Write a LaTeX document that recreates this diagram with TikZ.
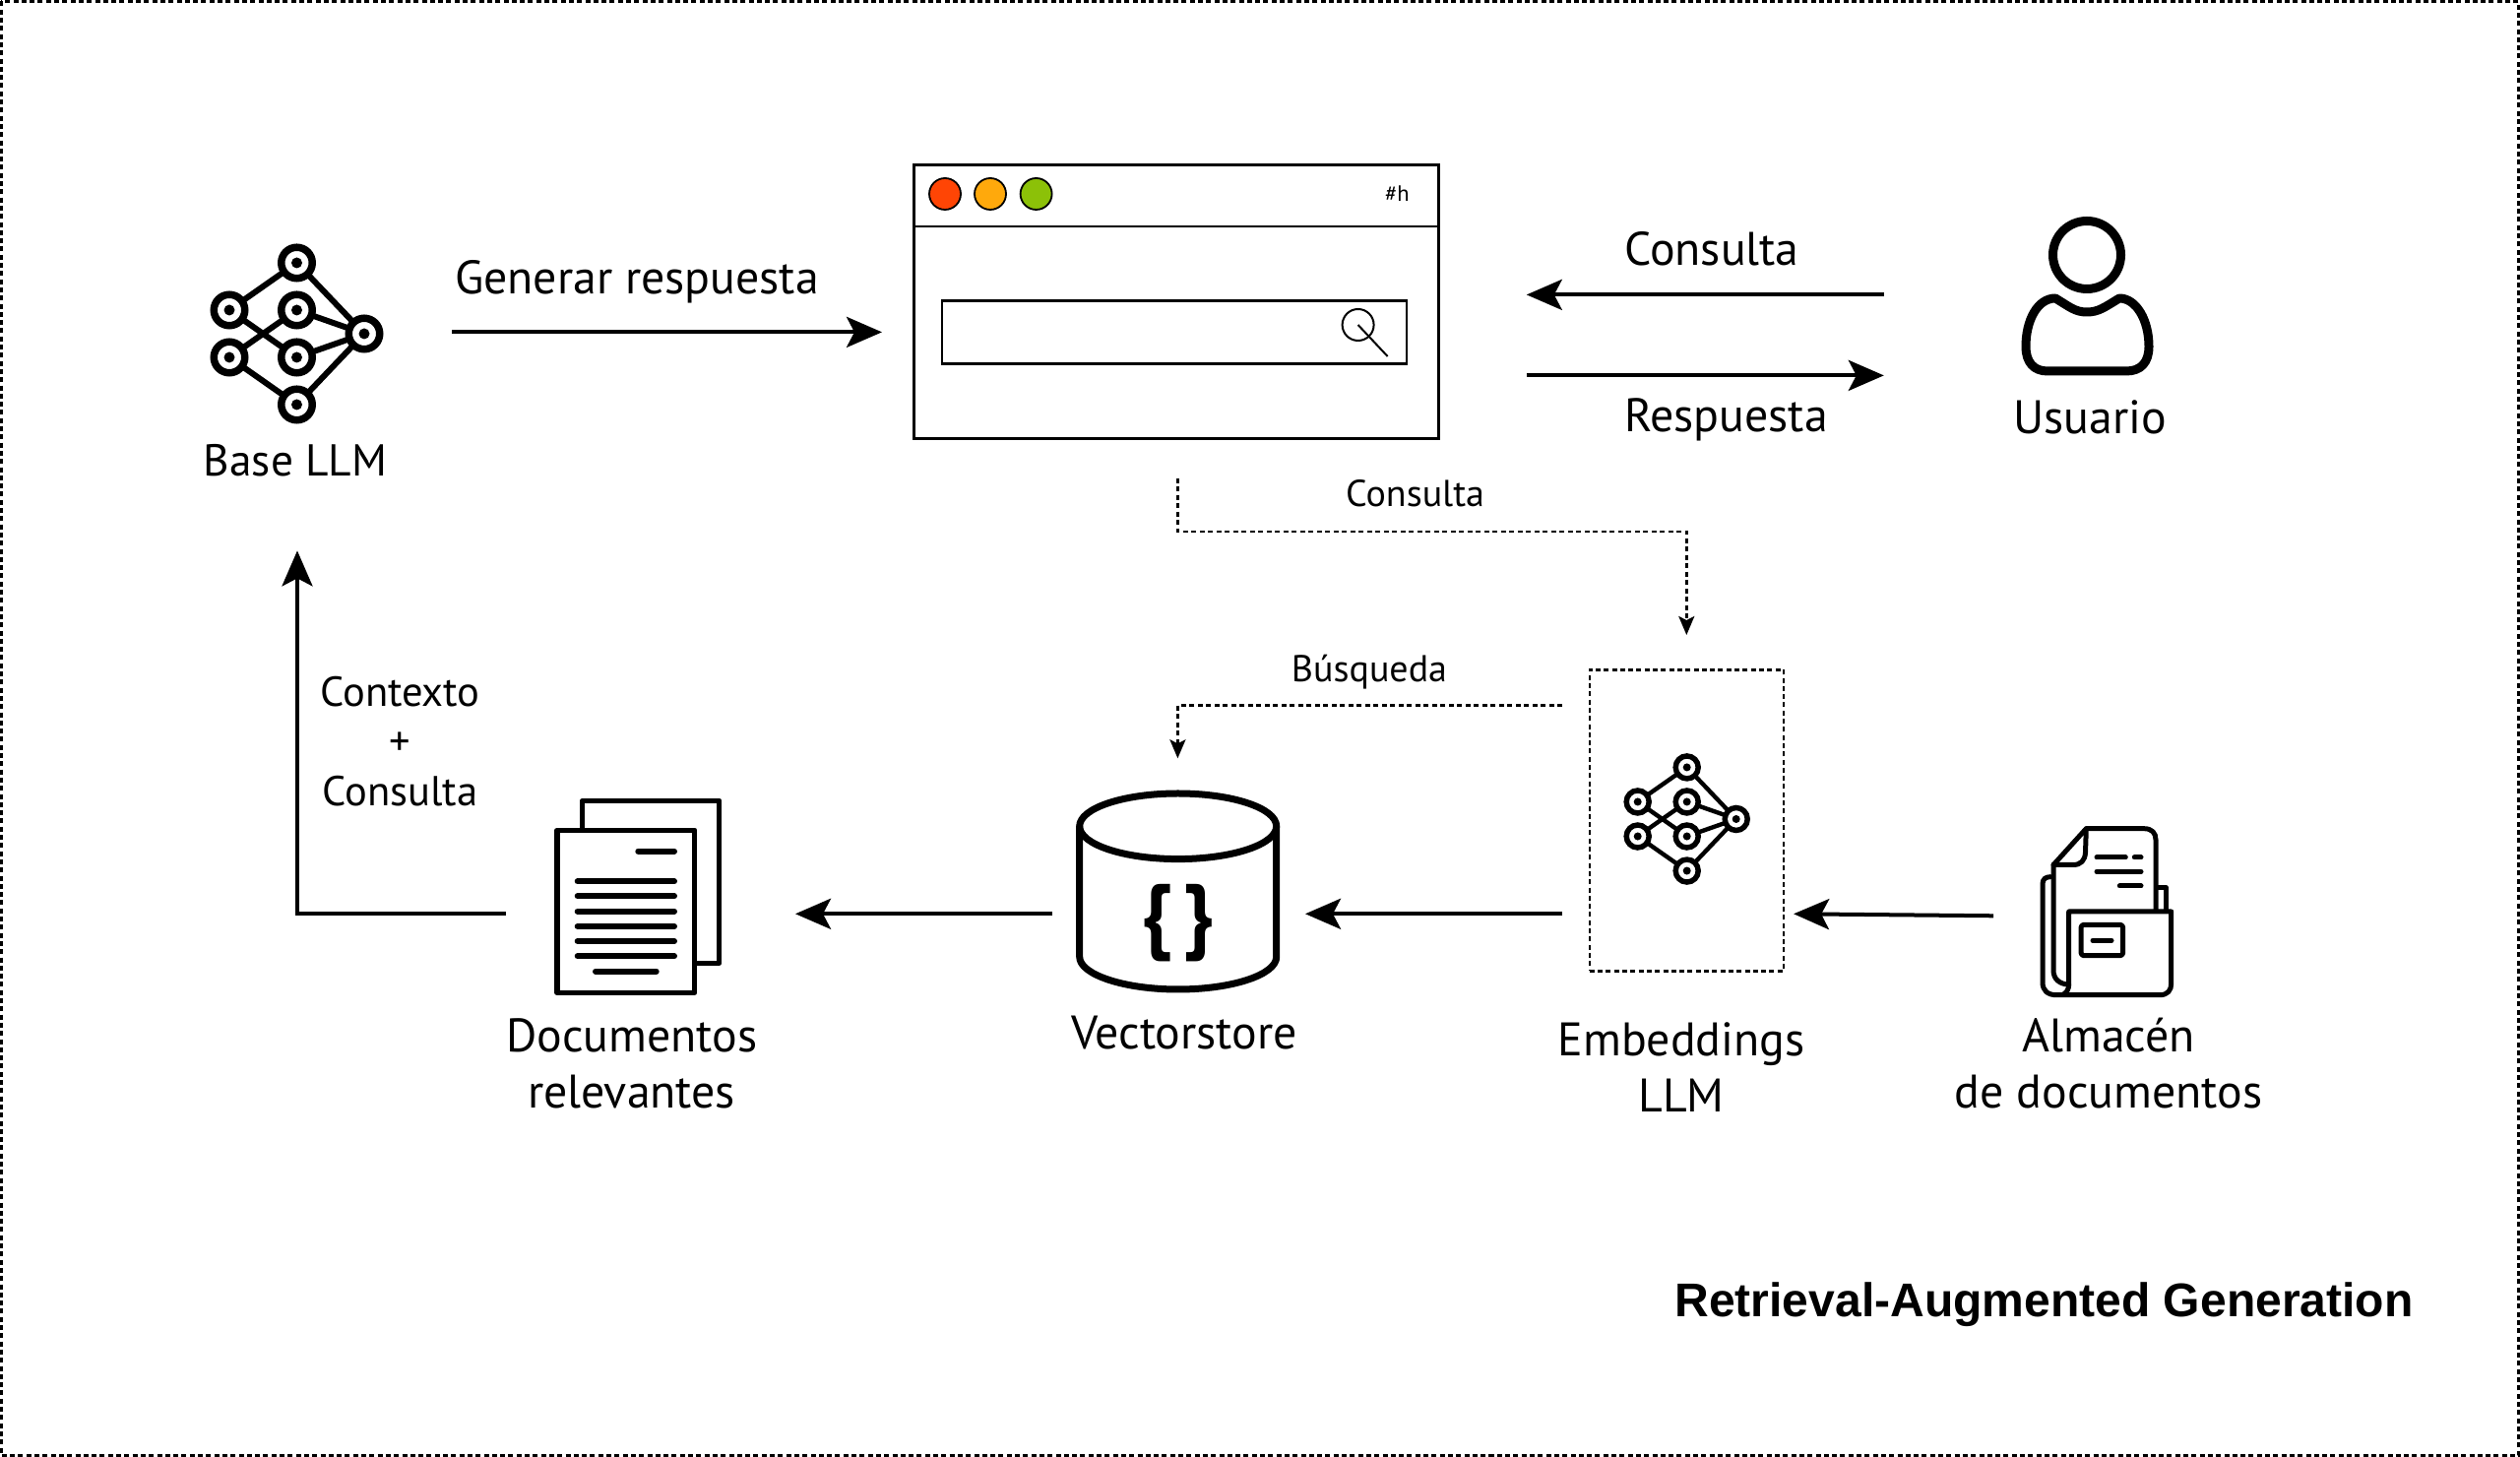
\documentclass[tikz,border=0pt]{standalone}
\usepackage{fontspec}
\setmainfont{PT Sans}
\newfontfamily\titlefont{Liberation Sans}
\usetikzlibrary{arrows.meta}
\newcommand{\px}{0.01cm}
\definecolor{winred}{RGB}{255,69,5}
\definecolor{winamber}{RGB}{255,169,12}
\definecolor{wingreen}{RGB}{140,193,8}
\tikzset{
    flow/.style={line width=4*\px, -{Stealth[length=36*\px, width=31*\px, inset=8*\px]}},
    hint/.style={line width=2.5*\px, dash pattern=on 5*\px off 3.5*\px, -{Stealth[length=19*\px, width=16*\px, inset=4*\px]}},
    frame/.style={line width=2.6*\px, dash pattern=on 5*\px off 3.3*\px},
    winline/.style={draw, line width=2.8*\px},
    light/.style={circle, draw, line width=1.8*\px, minimum width=32*\px, minimum height=32*\px, inner sep=0},
    icon/.style={line width=#1*\px, line cap=round, line join=round},
    big/.style={font=\fontsize{13.6}{16.2}\selectfont, align=center},
    mid/.style={font=\fontsize{12.1}{14.4}\selectfont, align=center},
    small/.style={font=\fontsize{10.8}{12}\selectfont},
    netring/.style={circle, draw, line width=#1*7.5*\px, minimum size=#1*31.5*\px, inner sep=0, outer sep=0},
    netdot/.style={circle, fill, minimum size=#1*11*\px, inner sep=0},
    llmnet/.pic={
        \foreach \n/\a/\b in {top/0/-72, lu/-68.5/-24, ll/-68.5/24, mu/0/-24, ml/0/24, bot/0/72, out/68.5/0}{
            \node[netring=#1] (\n) at (#1*\a,#1*\b) {};
            \node[netdot=#1] (\n-dot) at (\n) {};
        }
        \foreach \p/\q in {top/lu, top/out, lu/ml, ll/mu, ll/bot, mu/out, ml/out, bot/out}
            \draw[line width=#1*6*\px] (\p)--(\q);
    }
}
\begin{document}
\begin{tikzpicture}[x=\px, y=-\px]
    \useasboundingbox (0,0) rectangle (2560,1480);
    \draw[frame] (1.5,1.5) rectangle (2558.5,1478.5);
    % top row
    \pic (base) at (301.5,339) {llmnet=1};
    \node[font=\fontsize{12.9}{15}\selectfont] (baselabel) at (300,468) {Base LLM};
    \node[winline, minimum width=533*\px, minimum height=278*\px, inner sep=0, anchor=north west] (browser) at (927,166) {};
    \draw[line width=2.8*\px] (browser.west |- 0,230)coordinate(barl)--(browser.east |- barl)coordinate(barr);
    \node[light, fill=winred] (red) at (960,197) {};
    \node[light, fill=winamber] (amber) at (1006,197) {};
    \node[light, fill=wingreen] (green) at (1052.6,197) {};
    \node[font=\fontsize{6.4}{8}\selectfont] (hash) at (1419.5,197) {\#h};
    \node[winline, minimum width=472*\px, minimum height=64*\px, inner sep=0, anchor=north west] (search) at (955.5,304.3) {};
    \node[circle, draw, line width=2*\px, minimum size=32*\px, inner sep=0] (lens) at (1379.6,330) {};
    \draw[line width=2*\px] (lens.center)--++(30,32)coordinate(lensend);
    \draw[icon=9] (2120,259) circle[radius=34.5];
    \draw[icon=9] (2088,303) .. controls (2103,312) and (2108,317) .. (2120,317) .. controls (2132,317) and (2138,312) .. (2153,303) .. controls (2170,303) and (2183,325) .. (2183,352) .. controls (2183,368) and (2175,377) .. (2160,377) -- (2080,377) .. controls (2066,377) and (2058,368) .. (2058,352) .. controls (2058,325) and (2070,303) .. (2088,303) -- cycle;
    \node[big] (userlabel) at (2123,424) {Usuario};
    % bottom row
    \draw[icon=5.5] (591.7,843) -- (591.7,813.3) -- (730.7,813.3) -- (730.7,978.3) -- (706,978.3);
    \draw[icon=5.5] (566,843.3) rectangle (705.7,1008.3);
    \foreach \y in {895.3,910.3,925.7,941,956,971.3}
        \draw[icon=6] (586.7,\y) -- (685,\y);
    \draw[icon=6] (648.3,864.7) -- (685,864.7);
    \draw[icon=6] (605,986.7) -- (666.7,986.7);
    \node[big] (docslabel) at (641.6,1080) {Documentos\\relevantes};
    \draw[icon=7] (1196.7,839.3) circle[x radius=100, y radius=33.3];
    \draw[icon=7] (1096.7,839.3) -- (1096.7,972) .. controls (1096.7,990) and (1142,1005) .. (1196.7,1005) .. controls (1252,1005) and (1296.7,990) .. (1296.7,972) -- (1296.7,839.3);
    \node[font=\fontsize{24}{28}\selectfont\bfseries] (braces) at (1196.7,938) {\{\kern3.5pt\}};
    \node[big] (vectorlabel) at (1203,1049) {Vectorstore};
    \node[draw, frame, minimum width=197*\px, minimum height=306*\px, inner sep=0, anchor=north west] (embbox) at (1613.5,679) {};
    \pic (emb) at (1713.7,832) {llmnet=0.73};
    \node[big] (emblabel) at (1708,1084) {Embeddings\\LLM};
    \draw[icon=5] (2086,878.5) -- (2119.3,841.7) -- (2178,841.7) .. controls (2186,841.7) and (2190,846) .. (2190,853) -- (2190,925);
    \draw[icon=5] (2119.3,841.7) -- (2118.5,866) .. controls (2118,874) and (2114,878.5) .. (2106,878.5) -- (2086,878.5) -- (2086,986) .. controls (2086,994) and (2092,1000) .. (2101.7,1000);
    \draw[icon=5] (2083,890.7) .. controls (2078,890.7) and (2075,893) .. (2075,898) -- (2075,998) .. controls (2075,1006) and (2080,1010.7) .. (2089,1010.7) -- (2194,1010.7) .. controls (2202,1010.7) and (2205.7,1006) .. (2205.7,999) -- (2205.7,926) -- (2101.7,926) -- (2101.7,1000) .. controls (2101.7,1005) and (2099,1009) .. (2095,1010.7);
    \draw[icon=5] (2191.7,902) -- (2200.7,902) -- (2200.7,925);
    \draw[icon=5, rounded corners=3*\px] (2114,939.3) rectangle (2156.7,970.7);
    \draw[icon=5] (2126,955.3) -- (2145,955.3);
    \draw[icon=5] (2130,871) -- (2159.3,871) (2168.3,871) -- (2175,871) (2130,885.3) -- (2175,885.3) (2153.3,900) -- (2175,900);
    \node[big] (storelabel) at (2142,1080) {Almacén\\de documentos};
    % arrows
    \draw
    (browser.west)++(-468,31)coordinate(g1)
    (browser.west)++(-31,31)coordinate(g2)
    (browser.east)++(88,-7)coordinate(c2)
    (browser.east)++(451,-7)coordinate(c1)
    (browser.east)++(88,75)coordinate(r1)
    (browser.east)++(451,75)coordinate(r2)
    (browser.south)++(1.5,39)coordinate(d1)
    (d1)++(0,54)coordinate(d2)
    (embbox.north)++(0,-34)coordinate(d4)
    (d2 -| d4)coordinate(d3)
    (embbox.west)++(-26.5,-117)coordinate(s1)
    (d1 |- s1)coordinate(s2)
    (s2)++(0,54)coordinate(s3)
    (embbox.west)++(-26.5,95)coordinate(e1)
    (embbox.west)++(-287.5,95)coordinate(e2)
    (e2)++(-257,0)coordinate(v1)
    (v1)++(-261,0)coordinate(v2)
    (v2)++(-294,0)coordinate(x1)
    (x1)++(-212,0)coordinate(x2)
    (x2 |- g1)++(0,222)coordinate(x3)
    (embbox.east)++(212,97)coordinate(a1)
    (embbox.east)++(9,95)coordinate(a2)
    ;
    \draw[flow](g1)--(g2);
    \draw[flow](c1)--(c2);
    \draw[flow](r1)--(r2);
    \draw[hint](d1)--(d2)--(d3)--(d4);
    \draw[hint](s1)--(s2)--(s3);
    \draw[flow](e1)--(e2);
    \draw[flow](v1)--(v2);
    \draw[flow](x1)--(x2)--(x3);
    \draw[flow](a1)--(a2);
    % labels
    \node[big] (genlabel) at (647,286) {Generar respuesta};
    \node[big] (asklabel) at (1739,253) {Consulta};
    \node[big] (replylabel) at (1753.5,426) {Respuesta};
    \node[small] (querylabel) at (1437.6,501) {Consulta};
    \node[small] (searchlabel) at (1391,683) {Búsqueda};
    \node[mid] (ctxlabel) at (406.5,753) {Contexto\\+\\Consulta};
    \node[font=\titlefont\bfseries\fontsize{13.66}{16}\selectfont, anchor=east] (titlelabel) at (2464,1325) {Retrieval-Augmented Generation};
\end{tikzpicture}
\end{document}
